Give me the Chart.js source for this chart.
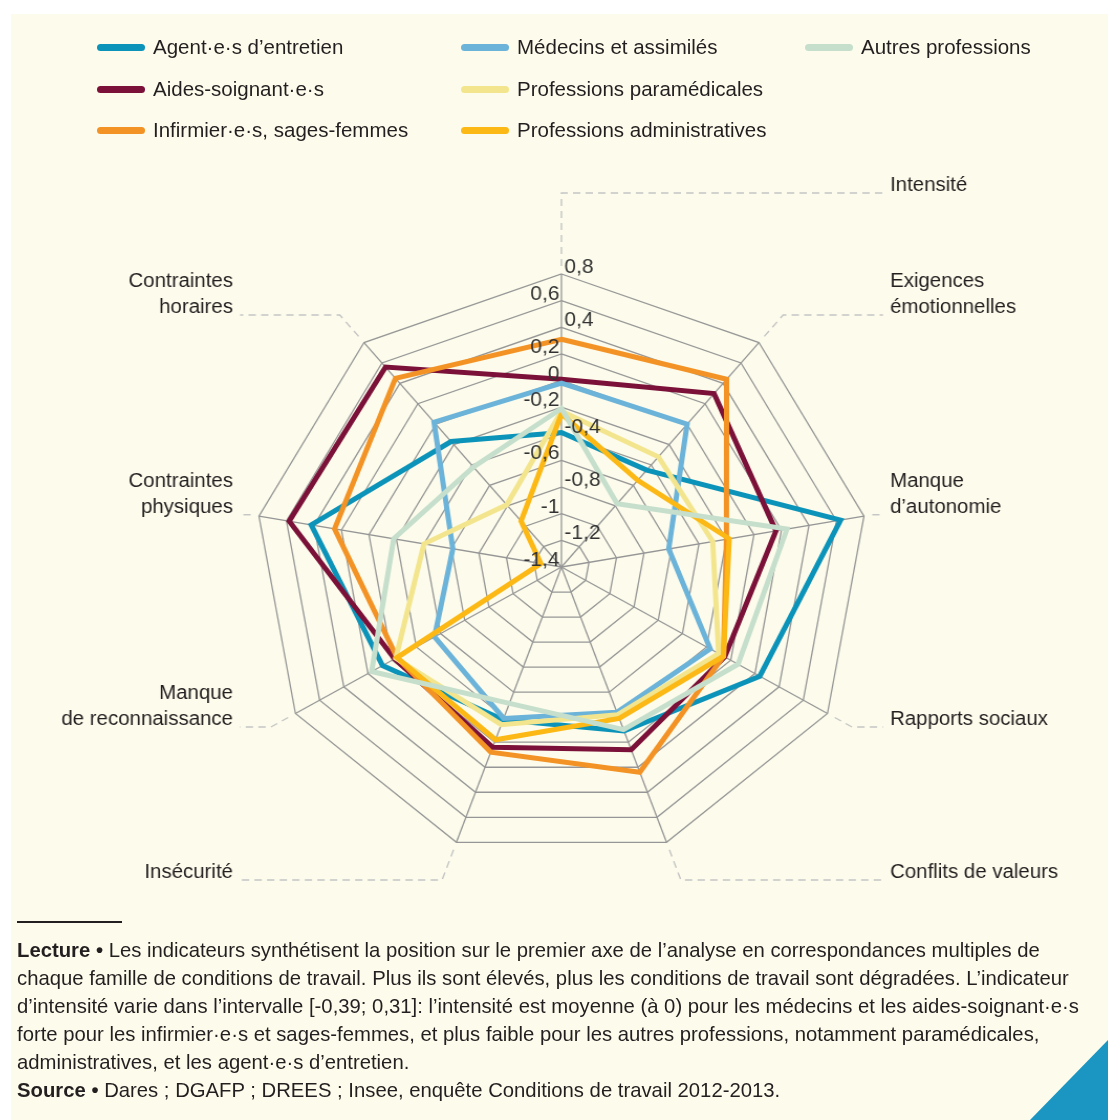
<!DOCTYPE html>
<html lang="fr">
<head>
<meta charset="utf-8">
<title>Conditions de travail par famille professionnelle</title>
<script src="https://cdn.jsdelivr.net/npm/chart.js@4.4.1/dist/chart.umd.min.js"></script>
<style>
  html, body { margin: 0; padding: 0; width: 1108px; height: 1120px; overflow: hidden; background: #fff; }
  body { position: relative; font-family: "Liberation Sans", Arial, sans-serif; color: #231f20; }
  #panel { position: absolute; left: 11px; top: 14px; right: 0; bottom: 0; background: #fdfcec; }
  #chart { position: absolute; left: 10px; top: 0; }
  .legend-item { position: absolute; height: 24px; display: flex; align-items: center; white-space: nowrap; font-size: 20.5px; }
  .legend-item i { display: inline-block; width: 48px; height: 7px; border-radius: 4px; margin-right: 8px; }
  #rule { position: absolute; left: 17px; top: 921px; width: 105px; height: 2px; background: #231f20; }
  #notes { position: absolute; left: 17px; top: 936px; font-size: 20.3px; line-height: 28px; white-space: nowrap; }
  #notes b { font-weight: bold; }
  #corner { position: absolute; left: 1030px; top: 1040px; width: 78px; height: 80px; background: #1b95c2;
            clip-path: polygon(100% 0, 100% 100%, 0 100%); }
</style>
</head>
<body>
<div id="panel"></div>
<canvas id="chart" width="1054" height="1134" style="width:1105px;height:1134px"></canvas>
<div id="legend"></div>
<div id="rule"></div>
<div id="notes">
  <div><b>Lecture •</b> Les indicateurs synthétisent la position sur le premier axe de l’analyse en correspondances multiples de</div>
  <div>chaque famille de conditions de travail. Plus ils sont élevés, plus les conditions de travail sont dégradées. L’indicateur</div>
  <div>d’intensité varie dans l’intervalle [-0,39; 0,31]: l’intensité est moyenne (à 0) pour les médecins et les aides-soignant·e·s</div>
  <div>forte pour les infirmier·e·s et sages-femmes, et plus faible pour les autres professions, notamment paramédicales,</div>
  <div>administratives, et les agent·e·s d’entretien.</div>
  <div><b>Source •</b> Dares ; DGAFP ; DREES ; Insee, enquête Conditions de travail 2012-2013.</div>
</div>
<div id="corner"></div>
<script>
const categories = [
  "Intensité",
  ["Exigences", "émotionnelles"],
  ["Manque", "d’autonomie"],
  "Rapports sociaux",
  "Conflits de valeurs",
  "Insécurité",
  ["Manque", "de reconnaissance"],
  ["Contraintes", "physiques"],
  ["Contraintes", "horaires"],
];

const tickLabels = ["-1,4", "-1,2", "-1", "-0,8", "-0,6", "-0,4", "-0,2", "0", "0,2", "0,4", "0,6", "0,8"];

const agentsEntretien = [-0.39, -0.45, 0.63, 0.24, -0.09, -0.18, 0.08, 0.42, -0.17];
const aidesSoignants = [0.01, 0.3, 0.16, -0.05, 0.06, 0.04, -0.02, 0.58, 0.56];
const infirmiers = [0.31, 0.44, -0.2, -0.06, 0.24, 0.08, -0.04, 0.25, 0.45];
const medecins = [-0.02, 0.0, -0.62, -0.17, -0.24, -0.19, -0.35, -0.61, 0.02];
const paramedicales = [-0.23, -0.32, -0.3, -0.1, -0.22, -0.14, -0.03, -0.4, -0.79];
const administratives = [-0.25, -0.55, -0.18, -0.06, -0.19, -0.02, -0.04, -1.25, -0.95];
const autres = [-0.21, -0.78, 0.24, 0.06, -0.1, -0.31, 0.17, -0.18, -0.42];

const series = [
  { name: "Agent·e·s d’entretien", data: agentsEntretien, color: "#0c93b9" },
  { name: "Aides-soignant·e·s", data: aidesSoignants, color: "#7b1138" },
  { name: "Infirmier·e·s, sages-femmes", data: infirmiers, color: "#f39325" },
  { name: "Médecins et assimilés", data: medecins, color: "#6cb3d9" },
  { name: "Professions paramédicales", data: paramedicales, color: "#f3e58e" },
  { name: "Professions administratives", data: administratives, color: "#fcb814" },
  { name: "Autres professions", data: autres, color: "#c6dfcc" },
];

// legend, 3 columns filled top to bottom
const legendCols = [97, 461, 805];
const legendRows = [47, 89, 130];
const legend = document.getElementById("legend");
series.forEach((s, i) => {
  const item = document.createElement("div");
  item.className = "legend-item";
  item.style.left = legendCols[Math.floor(i / 3)] + "px";
  item.style.top = legendRows[i % 3] - 12 + "px";
  item.innerHTML = '<i style="background:' + s.color + '"></i>' + s.name;
  legend.appendChild(item);
});

// the reference radar is drawn about 5% wider than tall, so the canvas is stretched
const SX = 1105 / 1054;
const LEFT = 10;
const px = (x) => (x - LEFT) / SX;

const leaderY = [193, 315, null, 727, 880, 880, 727, null, 315];
const rightTicks = ["0,8", "0,4", "-0,4", "-0,8", "-1,2"];
const FONT = '"Liberation Sans", Arial, sans-serif';

const decor = {
  id: "decor",
  afterDatasetsDraw(chart) {
    const ctx = chart.ctx;
    const s = chart.scales.r;
    const R = s.drawingArea;
    ctx.save();

    // axis names with dashed leaders
    ctx.font = "19.5px " + FONT;
    ctx.fillStyle = "#231f20";
    ctx.textBaseline = "middle";
    categories.forEach((name, i) => {
      const a = s.getPointPosition(i, R + 8);
      const far = s.getPointPosition(i, R + 108);
      const uy = (far.y - a.y) / 100;
      let b = a;
      if (leaderY[i] !== null) b = s.getPointPosition(i, R + 8 + (leaderY[i] - a.y) / uy);
      const right = i === 0 || a.x > s.xCenter;
      ctx.strokeStyle = "#c4c4c4";
      ctx.lineWidth = 1.4;
      ctx.setLineDash([7, 5]);
      ctx.beginPath();
      ctx.moveTo(a.x, a.y);
      ctx.lineTo(b.x, b.y);
      ctx.lineTo(right ? px(883) : px(240), b.y);
      ctx.stroke();

      const lines = [].concat(name);
      ctx.textAlign = right ? "left" : "right";
      const tx = right ? px(890) : px(233);
      lines.forEach((t, k) => ctx.fillText(t, tx, b.y - 7 - (lines.length - 1 - k) * 26.5));
    });

    // tick labels, alternating sides of the vertical axis
    ctx.setLineDash([]);
    ctx.font = "20px " + FONT;
    ctx.fillStyle = "#333";
    ctx.textBaseline = "alphabetic";
    s.ticks.forEach((t, k) => {
      const label = tickLabels[k];
      const y = s.yCenter - s.getDistanceFromCenterForValue(t.value);
      const right = rightTicks.includes(label);
      ctx.textAlign = right ? "left" : "right";
      ctx.fillText(label, s.xCenter + (right ? 3 : -2) / SX, y - 1);
    });
    ctx.restore();
  },
};

new Chart(document.getElementById("chart"), {
  type: "radar",
  data: {
    labels: categories,
    datasets: series.map((s, i) => ({
      label: s.name,
      data: s.data,
      borderColor: s.color,
      backgroundColor: "transparent",
      borderWidth: 5,
      pointRadius: 0,
      pointHoverRadius: 0,
      fill: false,
      order: series.length - i,
    })),
  },
  options: {
    responsive: false,
    animation: false,
    devicePixelRatio: 1,
    layout: { padding: { left: 233, right: 234, top: 274, bottom: 273 } },
    plugins: { legend: { display: false }, tooltip: { enabled: false } },
    scales: {
      r: {
        min: -1.4,
        max: 0.8,
        ticks: { display: false, stepSize: 0.2 },
        grid: { color: "#969696", lineWidth: 1.3 },
        angleLines: { color: "#969696", lineWidth: 1.3 },
        pointLabels: { display: false },
      },
    },
  },
  plugins: [decor],
});
</script>
</body>
</html>
